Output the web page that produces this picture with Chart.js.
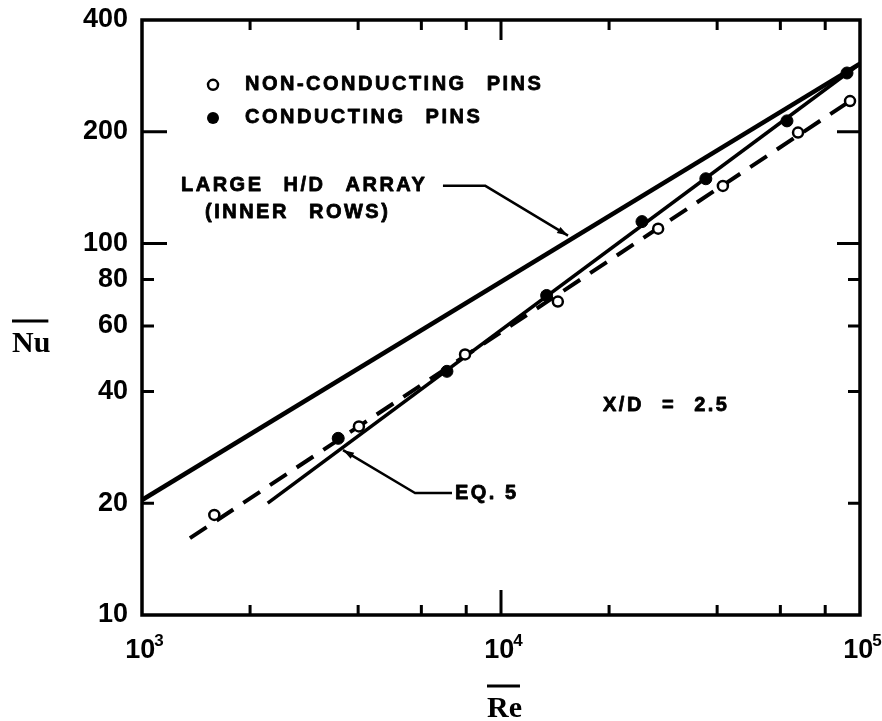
<!DOCTYPE html>
<html>
<head>
<meta charset="utf-8">
<script src="https://cdn.jsdelivr.net/npm/chart.js@4/dist/chart.umd.min.js"></script>
<style>
  html, body { margin: 0; padding: 0; background: #fff; }
  #wrap { width: 882px; height: 721px; }
</style>
</head>
<body>
<div id="wrap"><canvas id="nuChart" width="882" height="721"></canvas></div>
<script>
// Nu vs Re at X/D = 2.5
const reNonConducting = [1590, 4020, 7940, 14400, 27400, 41500, 67200, 93800];
const nuNonConducting = [18.6, 32.2, 50.3, 69.8, 109.7, 143, 199, 242];

const reConducting = [3520, 7070, 13400, 24700, 37200, 62600, 92000];
const nuConducting = [29.9, 45.3, 72.5, 114.6, 149.5, 214, 288];

const reLargeHD = [1000, 100000];
const nuLargeHD = [20.4, 305];

const reEq5 = [2240, 100000];
const nuEq5 = [20.0, 305];

const reFit = [1360, 93800];
const nuFit = [16.1, 242];

const yTickValues = [10, 20, 40, 60, 80, 100, 200, 400];
const xLabelValues = [1000, 10000, 100000];
const xMinorTicks = [2000, 4000, 6000, 8000, 20000, 40000, 60000, 80000];
const xMajorTicks = [10000];
const yMinorTicks = [20, 40, 60, 80];
const yMajorTicks = [100, 200];

const toPoints = (xs, ys) => xs.map((x, i) => ({ x: x, y: ys[i] }));

// text placed in data units (Re, Nu) of its left/middle anchor
const notes = [
    { text: 'NON-CONDUCTING PINS', re: 1936, nu: 267.6, gap: 12 },
    { text: 'CONDUCTING PINS', re: 1936, nu: 218, gap: 12 },
    { text: 'LARGE H/D ARRAY', re: 1284, nu: 143.2, gap: 12 },
    { text: '(INNER ROWS)', re: 1498, nu: 121.2, gap: 12 },
    { text: 'X/D = 2.5', re: 19240, nu: 36.7, gap: 10 },
    { text: 'EQ. 5', re: 7444, nu: 21.3, gap: 0 }
];
// leader lines, arrow tip first
const leaders = [
    [[15370, 105.1], [9024, 143.2], [6891, 143.2]],
    [[3630, 27.8], [5760, 21.3], [7302, 21.3]]
];

const paperPlugin = {
    id: 'paper',
    afterDraw(chart) {
        const ctx = chart.ctx;
        const area = chart.chartArea;
        const X = v => chart.scales.x.getPixelForValue(v);
        const Y = v => chart.scales.y.getPixelForValue(v);
        ctx.save();
        ctx.strokeStyle = '#000';
        ctx.fillStyle = '#000';
        ctx.lineCap = 'butt';

        // frame
        ctx.lineWidth = 3.5;
        ctx.strokeRect(area.left, area.top, area.right - area.left, area.bottom - area.top);

        // inward ticks
        ctx.lineWidth = 3;
        ctx.beginPath();
        xMinorTicks.forEach(v => {
            const px = X(v);
            ctx.moveTo(px, area.bottom); ctx.lineTo(px, area.bottom - 10);
            ctx.moveTo(px, area.top); ctx.lineTo(px, area.top + 10);
        });
        xMajorTicks.forEach(v => {
            const px = X(v);
            ctx.moveTo(px, area.bottom); ctx.lineTo(px, area.bottom - 25);
            ctx.moveTo(px, area.top); ctx.lineTo(px, area.top + 20);
        });
        yMinorTicks.forEach(v => {
            const py = Y(v);
            ctx.moveTo(area.left, py); ctx.lineTo(area.left + 12, py);
            ctx.moveTo(area.right, py); ctx.lineTo(area.right - 12, py);
        });
        yMajorTicks.forEach(v => {
            const py = Y(v);
            ctx.moveTo(area.left, py); ctx.lineTo(area.left + 25, py);
            ctx.moveTo(area.right, py); ctx.lineTo(area.right - 23, py);
        });
        ctx.stroke();

        // x labels 10^n
        xLabelValues.forEach(v => {
            const px = X(v);
            const exp = String(Math.round(Math.log10(v)));
            ctx.font = 'bold 27px "Liberation Sans"';
            const wb = ctx.measureText('10').width;
            ctx.font = 'bold 17px "Liberation Sans"';
            const ws = ctx.measureText(exp).width;
            const left = px + 3 - (wb + ws) / 2;
            ctx.textAlign = 'left';
            ctx.textBaseline = 'alphabetic';
            ctx.font = 'bold 27px "Liberation Sans"';
            ctx.fillText('10', left, area.bottom + 43);
            ctx.font = 'bold 17px "Liberation Sans"';
            ctx.fillText(exp, left + wb - 1, area.bottom + 31);
        });

        // axis titles with overbar
        ctx.font = 'bold 30px "Liberation Serif"';
        ctx.textAlign = 'left';
        ctx.textBaseline = 'alphabetic';
        const drawBar = (txt, x, y) => {
            const w = ctx.measureText(txt).width;
            ctx.fillText(txt, x, y);
            ctx.lineWidth = 3;
            ctx.beginPath();
            ctx.moveTo(x, y - 31); ctx.lineTo(x + w - 2, y - 31);
            ctx.stroke();
        };
        drawBar('Nu', 12, 352);
        drawBar('Re', 487, 717);

        // legend markers
        ctx.lineWidth = 2.5;
        ctx.beginPath();
        ctx.arc(X(1577), Y(267.6), 5, 0, Math.PI * 2);
        ctx.fillStyle = '#fff';
        ctx.fill();
        ctx.stroke();
        ctx.fillStyle = '#000';
        ctx.beginPath();
        ctx.arc(X(1577), Y(218), 6, 0, Math.PI * 2);
        ctx.fill();

        // notes, slightly stroked to look like the heavy lettering
        ctx.font = 'bold 20px "Liberation Sans"';
        ctx.letterSpacing = '2.5px';
        ctx.textBaseline = 'middle';
        ctx.lineWidth = 0.8;
        ctx.lineJoin = 'round';
        notes.forEach(n => {
            ctx.wordSpacing = n.gap + 'px';
            ctx.fillText(n.text, X(n.re), Y(n.nu));
            ctx.strokeText(n.text, X(n.re), Y(n.nu));
        });
        ctx.letterSpacing = '0px';
        ctx.wordSpacing = '0px';

        // leaders with small arrow heads
        ctx.lineWidth = 2.5;
        leaders.forEach(pts => {
            ctx.beginPath();
            pts.forEach((p, i) => {
                if (i === 0) ctx.moveTo(X(p[0]), Y(p[1]));
                else ctx.lineTo(X(p[0]), Y(p[1]));
            });
            ctx.stroke();
            const tx = X(pts[0][0]), ty = Y(pts[0][1]);
            const fx = X(pts[1][0]), fy = Y(pts[1][1]);
            const ang = Math.atan2(ty - fy, tx - fx);
            ctx.beginPath();
            ctx.moveTo(tx, ty);
            ctx.lineTo(tx - 11 * Math.cos(ang) + 3.5 * Math.sin(ang), ty - 11 * Math.sin(ang) - 3.5 * Math.cos(ang));
            ctx.lineTo(tx - 11 * Math.cos(ang) - 3.5 * Math.sin(ang), ty - 11 * Math.sin(ang) + 3.5 * Math.cos(ang));
            ctx.closePath();
            ctx.fill();
        });

        ctx.restore();
    }
};

new Chart(document.getElementById('nuChart'), {
    type: 'scatter',
    data: {
        datasets: [
            {
                label: 'Conducting pins',
                data: toPoints(reConducting, nuConducting),
                pointRadius: 6,
                pointBackgroundColor: '#000',
                pointBorderColor: '#000',
                pointBorderWidth: 1,
                showLine: false
            },
            {
                label: 'Non-conducting pins',
                data: toPoints(reNonConducting, nuNonConducting),
                pointRadius: 5,
                pointBackgroundColor: '#fff',
                pointBorderColor: '#000',
                pointBorderWidth: 2.5,
                showLine: false
            },
            {
                label: 'Large H/D array (inner rows)',
                data: toPoints(reLargeHD, nuLargeHD),
                showLine: true,
                borderColor: '#000',
                borderWidth: 4.5,
                pointRadius: 0
            },
            {
                label: 'Eq. 5',
                data: toPoints(reEq5, nuEq5),
                showLine: true,
                borderColor: '#000',
                borderWidth: 3.5,
                pointRadius: 0
            },
            {
                label: 'Non-conducting fit',
                data: toPoints(reFit, nuFit),
                showLine: true,
                borderColor: '#000',
                borderWidth: 4,
                borderDash: [20, 12],
                pointRadius: 0
            }
        ]
    },
    options: {
        responsive: false,
        animation: false,
        events: [],
        layout: { padding: { top: 20, right: 22, left: 0, bottom: 0 } },
        plugins: {
            legend: { display: false },
            tooltip: { enabled: false }
        },
        scales: {
            x: {
                type: 'logarithmic',
                min: 1000,
                max: 100000,
                grid: { display: false, drawTicks: false },
                border: { display: false },
                ticks: { display: false },
                afterFit: s => { s.height = 106; }
            },
            y: {
                type: 'logarithmic',
                min: 10,
                max: 400,
                grid: { display: false, drawTicks: false },
                border: { display: false },
                ticks: {
                    padding: 14,
                    color: '#000',
                    font: { family: 'Liberation Sans', weight: 'bold', size: 27 },
                    callback: v => String(v)
                },
                afterBuildTicks: s => { s.ticks = yTickValues.map(v => ({ value: v })); },
                afterFit: s => {
                    s.width = 142;
                    s.paddingTop = 0;
                    s.paddingBottom = 0;
                }
            }
        }
    },
    plugins: [paperPlugin]
});
</script>
</body>
</html>
